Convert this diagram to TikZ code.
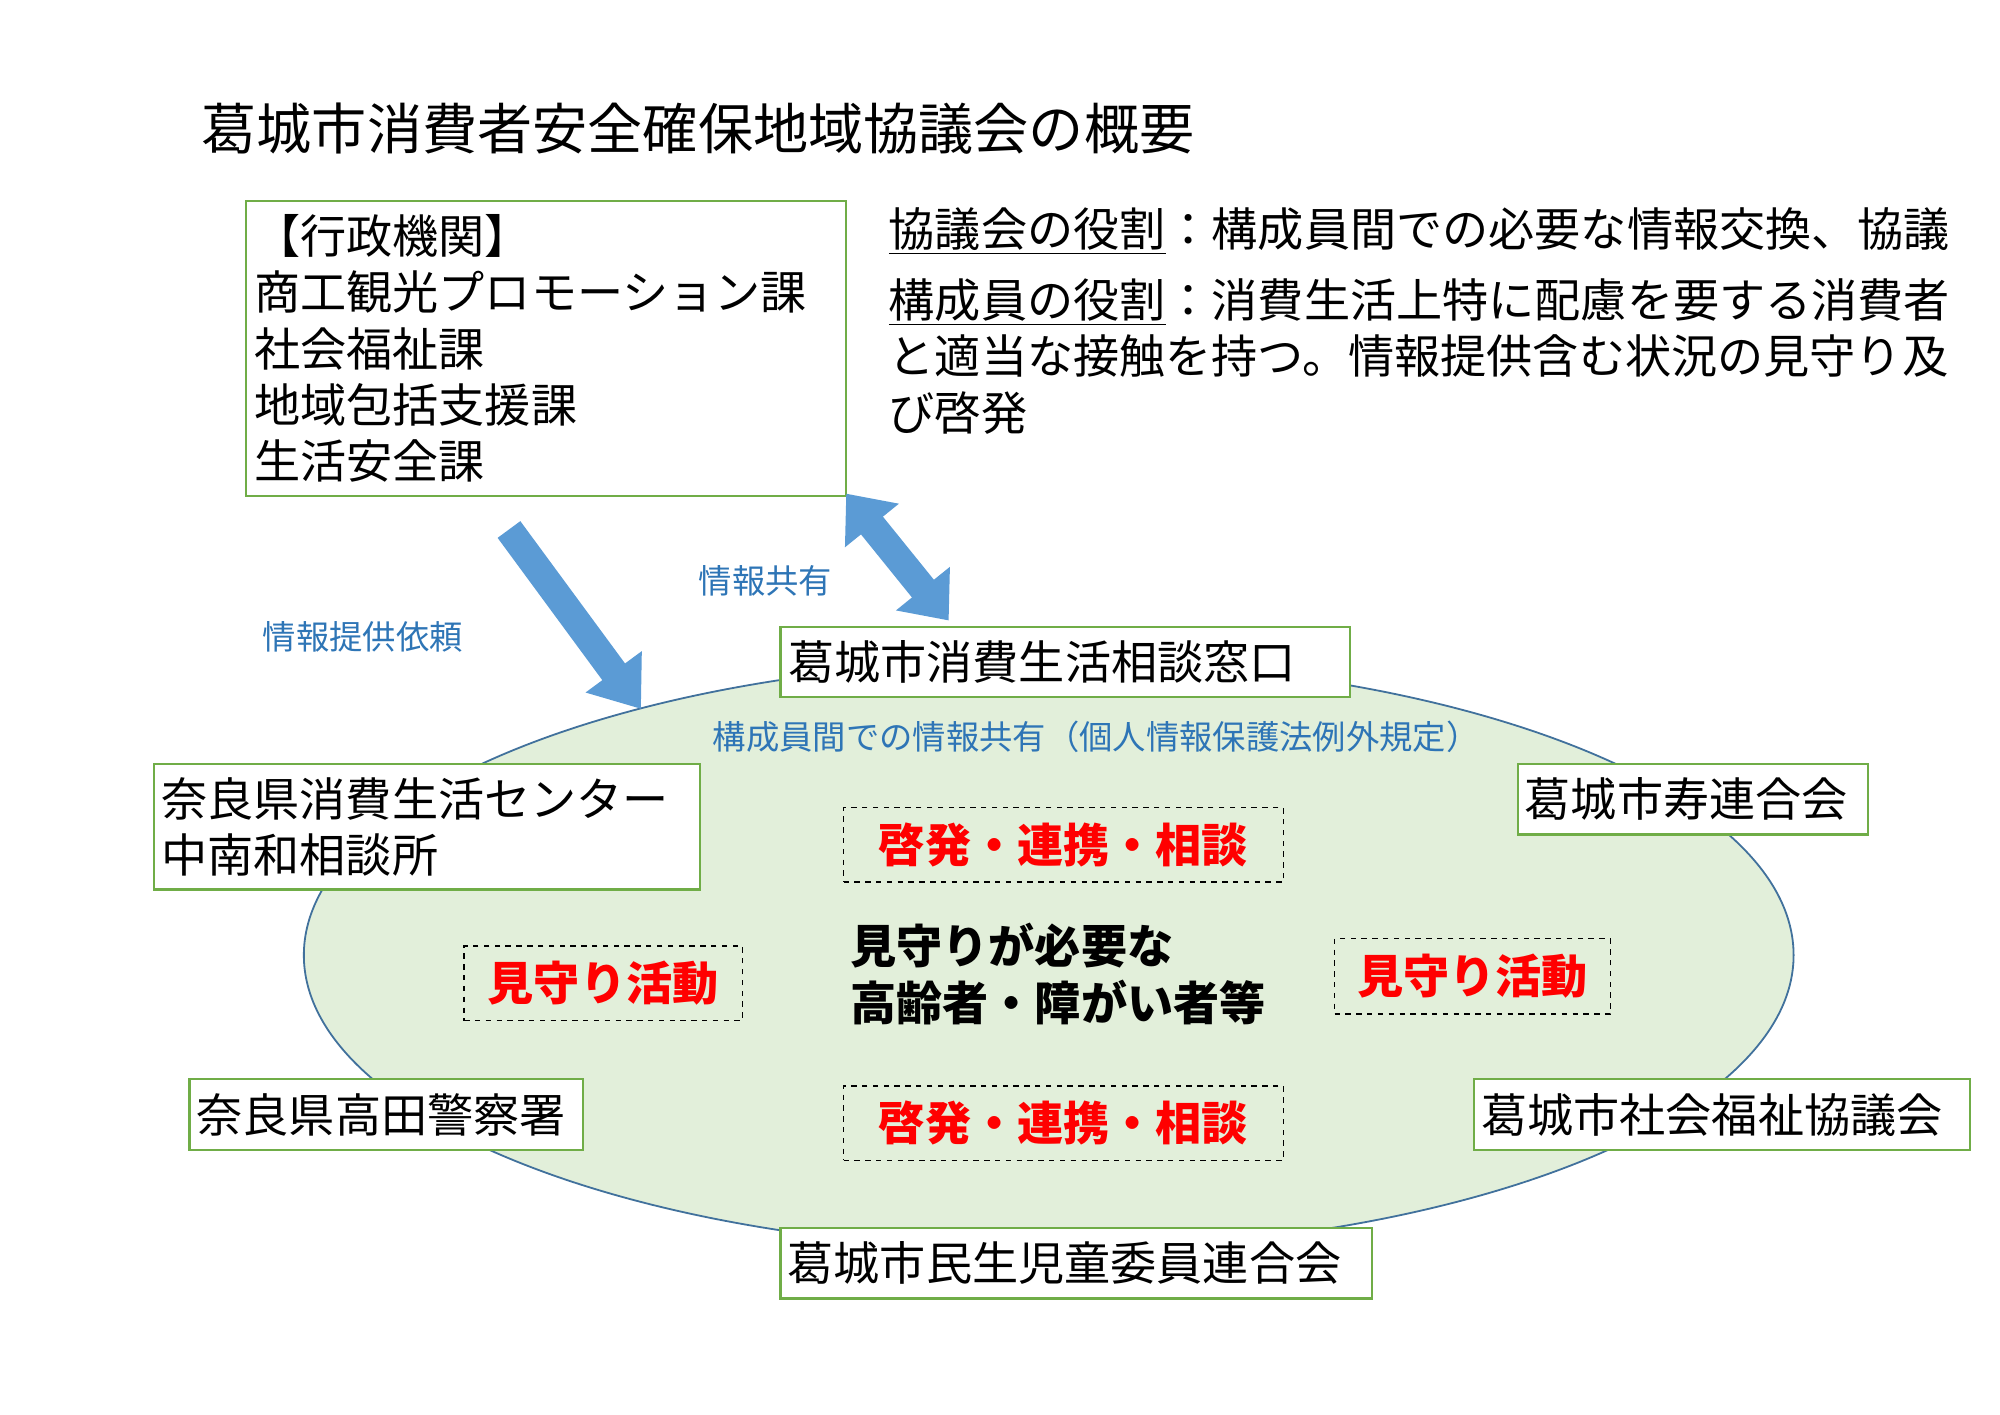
\documentclass[tikz,border=0pt]{standalone}
\usepackage{fontspec}
\setmainfont{Noto Sans CJK JP}
\usetikzlibrary{arrows.meta}
\definecolor{gbox}{HTML}{70AD47}
\definecolor{ellfill}{HTML}{E2EFDA}
\definecolor{ellline}{HTML}{41719C}
\definecolor{lblue}{HTML}{2E75B6}
\definecolor{arrblue}{HTML}{5B9BD5}
\begin{document}
\begin{tikzpicture}[x=0.25mm,y=-0.25mm,
  gb/.style={draw=gbox,line width=1.2pt,fill=white,inner sep=0pt,font=\fontsize{25.6}{31}\selectfont,align=left},
  db/.style={draw,dashed,line width=0.8pt,inner sep=0pt,font=\fontsize{25.6}{31}\selectfont\bfseries,text=red},
  bl/.style={text=lblue,font=\fontsize{18.5}{22}\selectfont},
  bt/.style={font=\fontsize{25.6}{31.3}\selectfont,anchor=north west,inner sep=0pt,align=left},
  bigarr/.style={line width=5.5mm,arrblue}]
\useasboundingbox (0,0) rectangle (1560,1103);
\node[anchor=west,inner sep=0pt,font=\fontsize{30.6}{36}\selectfont] (title) at (157,100) {葛城市消費者安全確保地域協議会の概要};
\node[gb,minimum width=468*0.25mm,minimum height=230*0.25mm,text width=455*0.25mm,anchor=north west,font=\fontsize{25.6}{31.3}\selectfont] (adm) at (191,156) {【行政機関】\\商工観光プロモーション課\\社会福祉課\\地域包括支援課\\生活安全課};
\node[bt] (role1) at (693,162) {\underline{協議会の役割}：構成員間での必要な情報交換、協議};
\node[bt] (role2) at (693,217) {\underline{構成員の役割}：消費生活上特に配慮を要する消費者\\と適当な接触を持つ。情報提供含む状況の見守り及\\び啓発};
\draw[ellline,fill=ellfill,line width=1pt] (818,745) ellipse [x radius=581, y radius=230];
\node[gb,anchor=north west,minimum width=444*0.25mm,minimum height=55*0.25mm,text width=432*0.25mm] (madoguchi) at (608,488) {葛城市消費生活相談窓口};
\node[gb,anchor=north west,minimum width=426*0.25mm,minimum height=98*0.25mm,text width=414*0.25mm] (nara) at (119,595) {奈良県消費生活センター\\中南和相談所};
\node[gb,anchor=north west,minimum width=273*0.25mm,minimum height=55*0.25mm,text width=262*0.25mm] (kotobuki) at (1183,595) {葛城市寿連合会};
\node[gb,anchor=north west,minimum width=307*0.25mm,minimum height=55*0.25mm,text width=296*0.25mm] (police) at (147,841) {奈良県高田警察署};
\node[gb,anchor=north west,minimum width=387*0.25mm,minimum height=55*0.25mm,text width=376*0.25mm] (shakyo) at (1149,841) {葛城市社会福祉協議会};
\node[gb,anchor=north west,minimum width=461*0.25mm,minimum height=55*0.25mm,text width=450*0.25mm] (minsei) at (608,957) {葛城市民生児童委員連合会};
\node[db,minimum width=343*0.25mm,minimum height=58*0.25mm] (k1) at (829.5,659) {啓発・連携・相談};
\node[db,minimum width=343*0.25mm,minimum height=58*0.25mm] (k2) at (829.5,876) {啓発・連携・相談};
\node[db,minimum width=217*0.25mm,minimum height=58*0.25mm] (m1) at (470.5,767) {見守り活動};
\node[db,minimum width=215*0.25mm,minimum height=59*0.25mm] (m2) at (1148.5,761.5) {見守り活動};
\node[anchor=north west,inner sep=0pt,align=left,font=\fontsize{25.6}{31.3}\selectfont\bfseries] (center) at (663,720) {見守りが必要な\\高齢者・障がい者等};
\node[bl] (share) at (597,453) {情報共有};
\node[bl] (req) at (283,497) {情報提供依頼};
\node[bl] (share2) at (855,575) {構成員間での情報共有（個人情報保護法例外規定）};
\coordinate (a1s) at (397,413);
\coordinate (a1e) at (500,553);
\draw[bigarr,-{Triangle[width=13mm,length=9mm]}] (a1s) -- (a1e);
\coordinate (a2s) at (660,385);
\coordinate (a2e) at (740,484);
\draw[bigarr,{Triangle[width=13mm,length=8mm]}-{Triangle[width=13mm,length=8mm]}] (a2s) -- (a2e);
\end{tikzpicture}
\end{document}
